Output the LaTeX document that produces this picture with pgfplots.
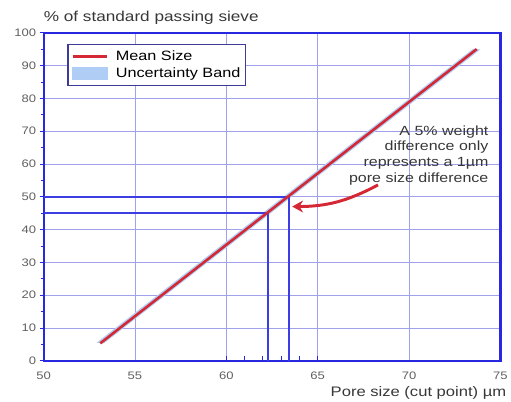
\documentclass[border=0pt]{standalone}
\usepackage{pgfplots}
\pgfplotsset{compat=1.18}
\usepackage{fontspec}
\setmainfont{Liberation Sans}
\newfontfamily\wide[FakeStretch=1.2]{Liberation Sans}
\usetikzlibrary{arrows.meta}
\definecolor{axblue}{RGB}{40,40,225}
\definecolor{gridblue}{RGB}{160,160,235}
\definecolor{meanred}{RGB}{212,40,52}
\definecolor{bandblue}{RGB}{175,205,245}
\definecolor{legframe}{RGB}{60,60,150}
\definecolor{ticgray}{RGB}{95,95,95}
\definecolor{txtgray}{RGB}{55,55,55}
\begin{document}
\begin{tikzpicture}
\begin{axis}[
  scale only axis,
  width=461bp, height=331bp,
  xmin=50, xmax=75, ymin=0, ymax=100,
  xtick={50,55,...,75}, ytick={0,10,...,100},
  minor ytick={5,15,...,95},
  ytick pos=left,
  grid=major,
  major grid style={gridblue, line width=0.8pt},
  axis line style={axblue, line width=2.2pt},
  tick style={axblue, line width=0.8pt},
  major tick length=4bp,
  minor tick length=3bp,
  xtick style={draw=none},
  ytick align=outside,
  tick label style={font=\wide\fontsize{11}{11}\selectfont, text=ticgray},
  xticklabel style={yshift=-8bp},
  /pgf/number format/assume math mode=true,
  clip=false,
  legend cell align=left,
  legend style={at={(axis cs:51.3,96.5)}, anchor=north west, draw=legframe, line width=1.2pt,
    font=\wide\fontsize{13.7}{14}\selectfont, fill=white, inner xsep=3.5bp, inner ysep=4bp, row sep=2bp},
  legend image code/.code={},
]
% uncertainty band (thin)
\addplot[draw=none, fill=bandblue, forget plot] coordinates {
 (52.9,5.5) (73.5,95.1) (73.9,94.9) (53.3,5.3) } -- cycle;
% guide lines
\addplot[axblue!90, line width=2pt, forget plot] coordinates {(50,45) (62.3,45) (62.3,0)};
\addplot[axblue!90, line width=2pt, forget plot] coordinates {(50,50) (63.45,50) (63.45,0)};
\addplot[axblue, line width=0.9pt, ycomb, forget plot] coordinates {(60,1.3) (61,1.3) (62,1.3) (63,1.3) (64,1.3) (65,1.3)};
% mean line
\addplot[meanred, line width=2.6pt, legend image code/.code={\draw[meanred, line width=2.6pt] (0cm,0cm) -- (1.23cm,0cm); \path (1.42cm,0cm);}] coordinates {(53.1,5.3) (73.7,95)};
\addlegendentry{Mean Size}
\addlegendimage{legend image code/.code={\fill[bandblue] (0cm,-0.22cm) rectangle (1.23cm,0.22cm); \path (1.42cm,0cm);}}
\addlegendentry{Uncertainty Band}
% annotation
\node[anchor=east, align=right, text=txtgray, font=\wide\fontsize{13.5}{15.9}\selectfont, inner sep=0pt] at (axis cs:74.35,62.6)
  {A 5\% weight\\difference only\\represents a 1\textmu m\\pore size difference};
\draw[meanred, line width=3pt, -{Stealth[length=11bp,width=12bp]}] (axis cs:68.3,53.6) to[bend left=14] (axis cs:63.6,47.0);
% titles
\node[anchor=base west, text=txtgray, font=\wide\fontsize{14.5}{14.5}\selectfont, inner sep=0pt] at ([yshift=11bp]rel axis cs:0,1) {\% of standard passing sieve};
\node[anchor=base east, text=txtgray, font=\wide\fontsize{14}{14}\selectfont, inner sep=0pt] at ([xshift=6bp,yshift=-36bp]rel axis cs:1,0) {Pore size (cut point) \textmu m};
\end{axis}
\path ([shift={(-44bp,-41bp)}]current axis.south west) rectangle ([shift={(6bp,33bp)}]current axis.north east);
\end{tikzpicture}
\end{document}
